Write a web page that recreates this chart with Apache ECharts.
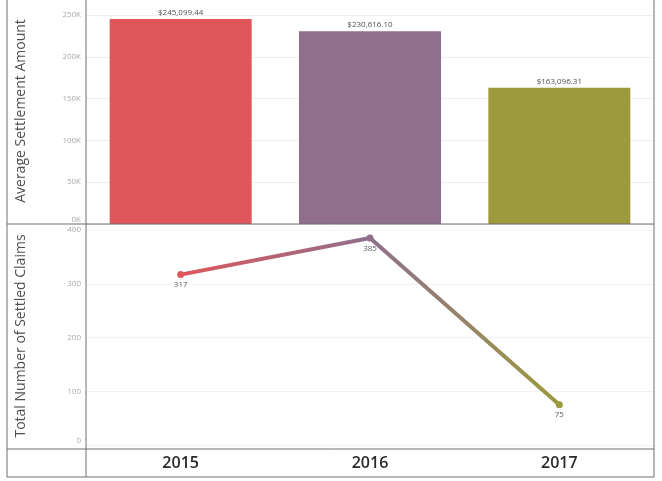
<!DOCTYPE html>
<html>
<head>
<meta charset="utf-8">
<script src="https://cdn.jsdelivr.net/npm/echarts@6/dist/echarts.min.js"></script>
<style>
  html, body { margin: 0; padding: 0; background: #fff; }
  #chart { width: 662px; height: 481px; }
</style>
</head>
<body>
<div id="chart"></div>
<script>
// data
const years = ['2015', '2016', '2017'];
const avgSettlement = [245099.44, 230616.10, 163096.31];
const settledClaims = [317, 385, 75];
const yearColors = ['#e0565a', '#8f6f8c', '#9d9a3d'];
const amountTicks = [0, 50000, 100000, 150000, 200000, 250000];
const claimTicks = [0, 100, 200, 300, 400];

const FONT = '"Open Sans", "DejaVu Sans", sans-serif';
const frameColor = '#6e6e6e';

const money = v => '$' + v.toLocaleString('en-US', { minimumFractionDigits: 2, maximumFractionDigits: 2 });

const chart = echarts.init(document.getElementById('chart'), null, { renderer: 'canvas', devicePixelRatio: 1 });

// panel borders (Tableau style table lines)
const hLine = (y) => ({ type: 'line', shape: { x1: 7, y1: y, x2: 654, y2: y }, style: { stroke: frameColor, lineWidth: 1 }, z: 10 });
const vLine = (x) => ({ type: 'line', shape: { x1: x, y1: 0, x2: x, y2: 477 }, style: { stroke: frameColor, lineWidth: 1 }, z: 10 });
// rotated panel titles
const title = (text, cy) => ({
  type: 'text', x: 21, y: cy, rotation: Math.PI / 2,
  style: { text: text, fill: '#505050', fontSize: 14, fontFamily: FONT, align: 'center', verticalAlign: 'middle' },
  z: 10
});

const option = {
  backgroundColor: '#fff',
  animation: false,
  textStyle: { fontFamily: FONT },
  grid: [
    { left: 86, right: 8, top: 15, height: 209 },
    { left: 86, right: 8, top: 230, height: 215 }
  ],
  xAxis: [
    {
      type: 'category', gridIndex: 0, data: years,
      axisLine: { show: false }, axisTick: { show: false }, axisLabel: { show: false }
    },
    {
      type: 'category', gridIndex: 1, data: years,
      axisLine: { show: false }, axisTick: { show: false },
      axisLabel: { margin: 10, fontSize: 16, fontWeight: 600, color: '#2a2a2a', fontFamily: FONT }
    }
  ],
  yAxis: [
    {
      type: 'value', gridIndex: 0, min: amountTicks[0], max: amountTicks[amountTicks.length - 1],
      interval: amountTicks[1] - amountTicks[0],
      axisLine: { show: false }, axisTick: { show: false },
      axisLabel: {
        margin: 5, fontSize: 8, color: '#aaa',
        verticalAlignMinLabel: 'bottom',
        formatter: v => (v / 1000) + 'K'
      },
      splitLine: { lineStyle: { color: '#efefef' } }
    },
    {
      type: 'value', gridIndex: 1, min: claimTicks[0], max: claimTicks[claimTicks.length - 1],
      interval: claimTicks[1] - claimTicks[0],
      axisLine: { show: false }, axisTick: { show: false },
      axisLabel: { margin: 5, fontSize: 8, color: '#aaa', verticalAlignMinLabel: 'bottom' },
      splitLine: { lineStyle: { color: '#f2f2f2' } }
    }
  ],
  series: [
    {
      type: 'bar', xAxisIndex: 0, yAxisIndex: 0,
      barWidth: '75%',
      data: avgSettlement.map((v, i) => ({ value: v, itemStyle: { color: yearColors[i] } })),
      label: {
        show: true, position: 'top', distance: 2, fontSize: 8, color: '#505050',
        formatter: p => money(p.value)
      }
    },
    {
      type: 'line', xAxisIndex: 1, yAxisIndex: 1,
      data: settledClaims.map((v, i) => ({ value: v, itemStyle: { color: yearColors[i] } })),
      symbol: 'circle', symbolSize: 7,
      lineStyle: {
        width: 4,
        color: new echarts.graphic.LinearGradient(0, 0, 1, 0, [
          { offset: 0, color: yearColors[0] },
          { offset: 0.5, color: yearColors[1] },
          { offset: 1, color: yearColors[2] }
        ])
      },
      label: { show: true, position: 'bottom', distance: 3, fontSize: 8, color: '#606060' }
    }
  ],
  graphic: [
    vLine(7), vLine(86), vLine(654),
    hLine(224), hLine(449), hLine(477),
    title('Average Settlement Amount', 111),
    title('Total Number of Settled Claims', 336)
  ]
};

option && chart.setOption(option);
</script>
</body>
</html>
